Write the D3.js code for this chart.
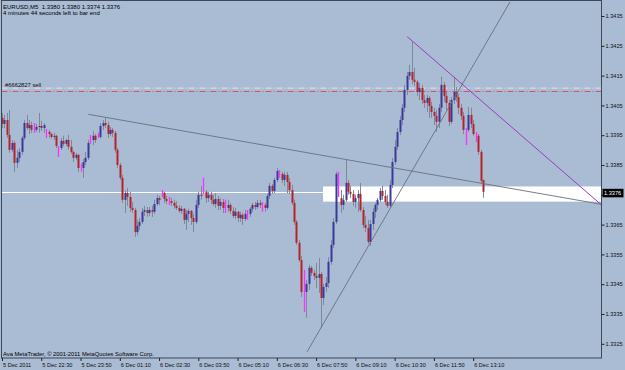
<!DOCTYPE html>
<html><head><meta charset="utf-8">
<script src="https://cdn.jsdelivr.net/npm/d3@7"></script>
<style>
html,body{margin:0;padding:0;background:#aabbd4;}
svg{display:block;font-family:"Liberation Sans",Arial,sans-serif;}
</style></head><body>
<svg id="c" width="625" height="370"></svg>
<script>
// ---------- DATA ----------
const symbolTitle = "EURUSD,M5  1.3380 1.3380 1.3374 1.3376";
const timerText = "4 minutes 44 seconds left to bar end";
const copyrightText = "Ava MetaTrader, \u00A9 2001-2011 MetaQuotes Software Corp.";
const orderLabel = "#6662827 sell";

const open = [
1.34008,1.33988,1.34001,1.33951,1.33901,1.33924,1.33857,1.33874,1.33894,1.33941,
1.33991,1.33974,1.33984,1.33968,1.33968,1.33978,1.33981,1.33974,1.33961,1.33961,
1.33954,1.33944,1.33948,1.33907,1.33907,1.33931,1.33921,1.33934,1.33911,1.33894,
1.33874,1.33884,1.33840,1.33840,1.33860,1.33874,1.33934,1.33934,1.33948,1.33944,
1.33944,1.33981,1.33991,1.33984,1.33954,1.33968,1.33958,1.33901,1.33850,1.33807,
1.33733,1.33756,1.33743,1.33706,1.33699,1.33625,1.33646,1.33659,1.33693,1.33699,
1.33689,1.33699,1.33693,1.33719,1.33739,1.33756,1.33756,1.33736,1.33729,1.33729,
1.33723,1.33713,1.33706,1.33696,1.33703,1.33666,1.33686,1.33696,1.33672,1.33659,
1.33716,1.33750,1.33760,1.33760,1.33739,1.33750,1.33733,1.33719,1.33736,1.33713,
1.33726,1.33706,1.33706,1.33716,1.33696,1.33679,1.33693,1.33672,1.33683,1.33669,
1.33686,1.33686,1.33703,1.33716,1.33709,1.33723,1.33716,1.33716,1.33706,1.33746,
1.33780,1.33763,1.33800,1.33820,1.33820,1.33800,1.33817,1.33793,1.33766,1.33723,
1.33659,1.33589,1.33531,1.33424,1.33424,1.33451,1.33505,1.33488,1.33478,1.33471,
1.33484,1.33404,1.33441,1.33454,1.33525,1.33582,1.33659,1.33807,1.33739,1.33716,
1.33733,1.33790,1.33760,1.33753,1.33726,1.33739,1.33753,1.33699,1.33649,1.33639,
1.33592,1.33652,1.33693,1.33716,1.33733,1.33763,1.33746,1.33726,1.33713,1.33783,
1.33860,1.33911,1.33961,1.34001,1.34042,1.34102,1.34149,1.34162,1.34136,1.34129,
1.34095,1.34109,1.34068,1.34058,1.34075,1.34048,1.34028,1.34015,1.33995,1.34042,
1.34119,1.34082,1.34058,1.33995,1.34068,1.34095,1.34078,1.34042,1.34015,1.33954,
1.33968,1.34018,1.33988,1.33948,1.33948,1.33894,1.33800];

const high = [
1.34025,1.34018,1.34025,1.34035,1.33934,1.33931,1.33901,1.33907,1.33948,1.34001,
1.34018,1.34001,1.33995,1.33991,1.33988,1.34025,1.33998,1.33991,1.33971,1.33968,
1.33958,1.33958,1.33951,1.33914,1.33941,1.33948,1.33938,1.33951,1.33934,1.33897,
1.33891,1.33887,1.33854,1.33870,1.33894,1.33934,1.33951,1.33964,1.33954,1.33958,
1.33991,1.34001,1.34008,1.33995,1.33978,1.33974,1.33964,1.33907,1.33857,1.33817,
1.33766,1.33773,1.33760,1.33726,1.33706,1.33666,1.33672,1.33706,1.33713,1.33709,
1.33709,1.33713,1.33733,1.33750,1.33746,1.33766,1.33760,1.33746,1.33743,1.33739,
1.33733,1.33729,1.33716,1.33713,1.33706,1.33699,1.33703,1.33699,1.33686,1.33733,
1.33760,1.33780,1.33807,1.33766,1.33760,1.33760,1.33750,1.33756,1.33746,1.33739,
1.33736,1.33733,1.33733,1.33723,1.33709,1.33706,1.33696,1.33693,1.33689,1.33699,
1.33699,1.33709,1.33723,1.33726,1.33733,1.33733,1.33726,1.33723,1.33753,1.33790,
1.33786,1.33807,1.33840,1.33833,1.33827,1.33827,1.33827,1.33807,1.33783,1.33733,
1.33666,1.33599,1.33545,1.33498,1.33464,1.33515,1.33511,1.33498,1.33521,1.33538,
1.33491,1.33451,1.33474,1.33541,1.33599,1.33672,1.33827,1.33827,1.33766,1.33750,
1.33867,1.33800,1.33780,1.33766,1.33750,1.33766,1.33790,1.33709,1.33679,1.33666,
1.33666,1.33706,1.33723,1.33739,1.33773,1.33780,1.33766,1.33750,1.33800,1.33874,
1.33934,1.33974,1.34015,1.34055,1.34119,1.34162,1.34186,1.34263,1.34176,1.34136,
1.34125,1.34119,1.34085,1.34085,1.34082,1.34062,1.34042,1.34035,1.34055,1.34146,
1.34129,1.34095,1.34068,1.34078,1.34146,1.34112,1.34089,1.34055,1.34028,1.33974,
1.34045,1.34042,1.34001,1.33961,1.33954,1.33901,1.33800];

const low = [
1.33974,1.33974,1.33941,1.33891,1.33894,1.33827,1.33840,1.33860,1.33884,1.33934,
1.33968,1.33954,1.33958,1.33958,1.33961,1.33958,1.33964,1.33958,1.33941,1.33941,
1.33938,1.33934,1.33907,1.33877,1.33901,1.33914,1.33914,1.33901,1.33887,1.33860,
1.33867,1.33827,1.33827,1.33807,1.33850,1.33867,1.33921,1.33917,1.33924,1.33941,
1.33938,1.33968,1.33974,1.33941,1.33948,1.33944,1.33891,1.33840,1.33800,1.33723,
1.33689,1.33713,1.33693,1.33689,1.33609,1.33615,1.33632,1.33652,1.33679,1.33676,
1.33679,1.33676,1.33686,1.33713,1.33716,1.33743,1.33723,1.33719,1.33716,1.33713,
1.33703,1.33699,1.33689,1.33686,1.33652,1.33632,1.33659,1.33649,1.33625,1.33652,
1.33706,1.33733,1.33753,1.33723,1.33726,1.33719,1.33713,1.33706,1.33699,1.33699,
1.33689,1.33689,1.33693,1.33686,1.33672,1.33669,1.33659,1.33659,1.33649,1.33662,
1.33666,1.33676,1.33693,1.33699,1.33703,1.33706,1.33693,1.33693,1.33699,1.33736,
1.33753,1.33756,1.33793,1.33807,1.33790,1.33780,1.33756,1.33753,1.33716,1.33649,
1.33582,1.33525,1.33407,1.33357,1.33337,1.33431,1.33478,1.33464,1.33437,1.33421,
1.33303,1.33380,1.33424,1.33437,1.33515,1.33572,1.33652,1.33743,1.33689,1.33699,
1.33726,1.33750,1.33739,1.33713,1.33706,1.33693,1.33693,1.33639,1.33625,1.33585,
1.33578,1.33632,1.33672,1.33699,1.33726,1.33733,1.33716,1.33706,1.33706,1.33773,
1.33850,1.33901,1.33951,1.33984,1.34028,1.34085,1.34136,1.34122,1.34115,1.34082,
1.34068,1.34055,1.34042,1.34028,1.34008,1.34008,1.33984,1.33961,1.33974,1.34028,
1.34062,1.34035,1.33981,1.33988,1.34055,1.34062,1.34021,1.34001,1.33954,1.33917,
1.33961,1.33974,1.33948,1.33927,1.33884,1.33786,1.33740];

const close = [
1.33988,1.34001,1.33951,1.33901,1.33924,1.33857,1.33874,1.33894,1.33941,1.33991,
1.33974,1.33984,1.33968,1.33968,1.33978,1.33981,1.33974,1.33984,1.33961,1.33954,
1.33944,1.33948,1.33914,1.33907,1.33931,1.33921,1.33934,1.33911,1.33894,1.33874,
1.33884,1.33840,1.33840,1.33860,1.33874,1.33924,1.33934,1.33948,1.33934,1.33944,
1.33981,1.33991,1.33984,1.33954,1.33968,1.33958,1.33901,1.33850,1.33807,1.33733,
1.33756,1.33743,1.33706,1.33699,1.33625,1.33646,1.33659,1.33693,1.33699,1.33689,
1.33699,1.33693,1.33719,1.33739,1.33733,1.33756,1.33736,1.33729,1.33729,1.33723,
1.33713,1.33706,1.33696,1.33703,1.33666,1.33686,1.33696,1.33672,1.33659,1.33716,
1.33750,1.33746,1.33760,1.33739,1.33750,1.33733,1.33719,1.33736,1.33713,1.33726,
1.33706,1.33706,1.33716,1.33696,1.33679,1.33693,1.33672,1.33683,1.33669,1.33686,
1.33686,1.33703,1.33716,1.33709,1.33723,1.33716,1.33716,1.33706,1.33746,1.33780,
1.33763,1.33800,1.33830,1.33820,1.33800,1.33817,1.33793,1.33766,1.33723,1.33659,
1.33589,1.33531,1.33424,1.33424,1.33451,1.33505,1.33488,1.33478,1.33471,1.33484,
1.33404,1.33441,1.33454,1.33525,1.33582,1.33659,1.33820,1.33807,1.33716,1.33733,
1.33790,1.33760,1.33753,1.33726,1.33739,1.33753,1.33699,1.33649,1.33639,1.33592,
1.33652,1.33693,1.33716,1.33733,1.33763,1.33746,1.33726,1.33713,1.33783,1.33860,
1.33911,1.33961,1.34001,1.34042,1.34102,1.34149,1.34162,1.34136,1.34129,1.34095,
1.34109,1.34068,1.34058,1.34075,1.34048,1.34028,1.34015,1.33995,1.34042,1.34119,
1.34082,1.34058,1.33995,1.34068,1.34095,1.34078,1.34042,1.34015,1.33968,1.33954,
1.34018,1.33988,1.33954,1.33948,1.33894,1.33797,1.33760];

// bars drawn as magenta markers
const markedBars = [13,18,23,32,36,39,65,68,82,91,100,106,113,123,137,189,193];

const priceTicks = [1.3325,1.3335,1.3345,1.3355,1.3365,1.3375,1.3385,1.3395,1.3405,1.3415,1.3425,1.3435];
const timeTickBars = [0,16,32,48,64,80,96,112,128,144,160,176,192];
const timeTickLabels = ["5 Dec 2011","5 Dec 22:30","5 Dec 23:50","6 Dec 01:10","6 Dec 02:30","6 Dec 03:50",
  "6 Dec 05:10","6 Dec 06:30","6 Dec 07:50","6 Dec 09:10","6 Dec 10:30","6 Dec 11:50","6 Dec 13:10"];

const bidPrice = 1.3376;
const orderPrice = 1.34108;
const orderStopPrice = 1.34100;
const zoneBars = [130.8, 244.2];
const zonePrices = [1.33778, 1.33727];
const trendA = [[35.2, 1.34020],[244.3, 1.33718]];
const trendB = [[124.3, 1.33223],[207.0, 1.34397]];
const trendC = [[165.1, 1.34281],[244.3, 1.33716]];

// ---------- CHART ----------
const svg = d3.select("#c");
const L = 1.5, R = 601.5, T = 0.5, B = 358;
const x = d3.scaleLinear().domain([0, 244.1]).range([2, 601]);
const y = d3.scaleLinear().domain([1.3325, 1.3435]).range([343.8, 16]);

svg.append("rect").attr("width",625).attr("height",370).attr("fill","#aabbd4");
svg.append("defs").append("clipPath").attr("id","plot")
  .append("rect").attr("x",L).attr("y",T).attr("width",R-L).attr("height",B-T);

const g = svg.append("g").attr("clip-path","url(#plot)");

// order lines
g.append("line").attr("x1",L).attr("x2",R).attr("y1",y(orderPrice)).attr("y2",y(orderPrice))
  .attr("stroke","#e4e6ef").attr("stroke-width",1).attr("stroke-dasharray","6,2,1,2");
g.append("line").attr("x1",L).attr("x2",R).attr("y1",y(orderStopPrice)+1).attr("y2",y(orderStopPrice)+1)
  .attr("stroke","#d8506a").attr("stroke-width",1).attr("stroke-dasharray","6,2,1,2");

// bid line
g.append("line").attr("x1",L).attr("x2",R).attr("y1",Math.round(y(bidPrice))+0.5).attr("y2",Math.round(y(bidPrice))+0.5)
  .attr("stroke","#ffffff").attr("stroke-width",1);

// white zone
g.append("rect").attr("x",x(zoneBars[0])).attr("y",y(zonePrices[0]))
  .attr("width",x(zoneBars[1])-x(zoneBars[0])).attr("height",y(zonePrices[1])-y(zonePrices[0]))
  .attr("fill","#ffffff");

// candles
const bars = open.map((o,i)=>({i,o,h:high[i],l:low[i],c:close[i],mark:markedBars.includes(i)}));
const cg = g.append("g");
bars.forEach(d=>{
  const cx = Math.round(x(d.i))+0.5;
  if(d.mark){
    cg.append("line").attr("x1",cx).attr("x2",cx).attr("y1",y(d.h)).attr("y2",y(d.l))
      .attr("stroke","#ff30ff").attr("stroke-width",1.3);
    return;
  }
  cg.append("line").attr("x1",cx).attr("x2",cx).attr("y1",y(d.h)).attr("y2",y(d.l))
    .attr("stroke","#7f8898").attr("stroke-width",1);
  const top = y(Math.max(d.o,d.c)), bot = y(Math.min(d.o,d.c));
  cg.append("rect").attr("x",cx-1).attr("width",2)
    .attr("y",top).attr("height",Math.max(1,bot-top))
    .attr("fill", d.c>d.o ? "#38399a" : (d.c<d.o ? "#b62228" : "#7f8898"));
});

// trend lines
const line = d3.line().x(d=>x(d[0])).y(d=>y(d[1]));
g.append("path").attr("d",line(trendA)).attr("stroke","#6a717c").attr("fill","none").attr("stroke-width",0.9);
g.append("path").attr("d",line(trendB)).attr("stroke","#6a717c").attr("fill","none").attr("stroke-width",0.9);
g.append("path").attr("d",line(trendC)).attr("stroke","#9a3cc0").attr("fill","none").attr("stroke-width",1);

// frame
svg.append("rect").attr("x",L).attr("y",T).attr("width",R-L).attr("height",B-T)
  .attr("fill","none").attr("stroke","#3d4757").attr("stroke-width",1);

// y axis (the label under the bid box is hidden by the box, as in the terminal)
const ya = svg.append("g").attr("transform",`translate(${R},0)`)
  .call(d3.axisRight(y).tickValues(priceTicks).tickSize(3).tickPadding(1).tickFormat(d3.format(".4f")));
ya.select(".domain").remove();
ya.selectAll("line").attr("stroke","#222");
ya.selectAll("text").attr("font-size",5.6).attr("fill","#111").attr("font-family","Liberation Sans, Arial, sans-serif");
ya.selectAll(".tick").filter(d=>Math.abs(y(d)-y(bidPrice))<8).select("text").remove();

// x axis
const xa = svg.append("g").attr("transform",`translate(0,${B})`)
  .call(d3.axisBottom(x).tickValues(timeTickBars).tickSize(3).tickFormat((d,i)=>timeTickLabels[i]));
xa.select(".domain").remove();
xa.selectAll("line").attr("stroke","#222");
xa.selectAll("text").attr("font-size",5.6).attr("fill","#111").attr("text-anchor","start")
  .attr("x",0.5).attr("y",9).attr("dy",0).attr("font-family","Liberation Sans, Arial, sans-serif");

// bid label
const by = y(bidPrice);
svg.append("rect").attr("x",602.5).attr("y",by-3).attr("width",21).attr("height",8.5).attr("fill","#000");
svg.append("text").attr("x",604).attr("y",by+3.4).attr("font-size",5.6).attr("fill","#fff").text(d3.format(".4f")(bidPrice));

// texts
svg.append("text").attr("x",3).attr("y",8.6).attr("font-size",6).attr("fill","#000").attr("xml:space","preserve").text(symbolTitle);
svg.append("text").attr("x",3).attr("y",15.2).attr("font-size",6).attr("fill","#000").text(timerText);
svg.append("text").attr("x",5).attr("y",86.5).attr("font-size",5.8).attr("fill","#111").text(orderLabel);
svg.append("text").attr("x",3).attr("y",355.5).attr("font-size",5.8).attr("fill","#000").text(copyrightText);
</script>
</body></html>
